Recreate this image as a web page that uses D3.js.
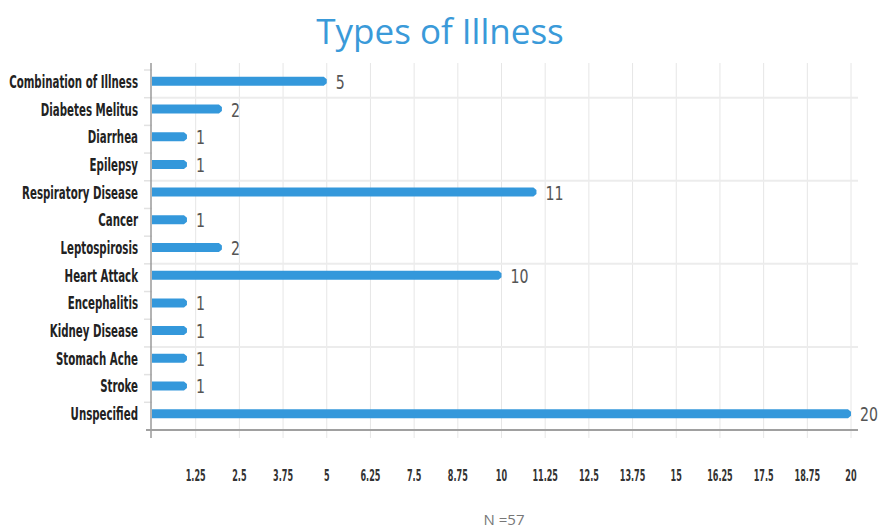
<!DOCTYPE html>
<html>
<head>
<meta charset="utf-8">
<script src="https://cdn.jsdelivr.net/npm/d3@7/dist/d3.min.js"></script>
<style>
  html, body { margin: 0; padding: 0; background: #fff; }
  svg { display: block; }
</style>
</head>
<body>
<script>
// Illness categories (top to bottom) and counts of cases
const categories = [
  "Combination of Illness", "Diabetes Melitus", "Diarrhea", "Epilepsy",
  "Respiratory Disease", "Cancer", "Leptospirosis", "Heart Attack",
  "Encephalitis", "Kidney Disease", "Stomach Ache", "Stroke", "Unspecified"
];
const counts = [5, 2, 1, 1, 11, 1, 2, 10, 1, 1, 1, 1, 20];
const xTicks = [1.25, 2.5, 3.75, 5, 6.25, 7.5, 8.75, 10, 11.25, 12.5, 13.75, 15, 16.25, 17.5, 18.75, 20];
const xTickLabels = ["1.25", "2.5", "3.75", "5", "6.25", "7.5", "8.75", "10", "11.25", "12.5", "13.75", "15", "16.25", "17.5", "18.75", "20"];
const title = "Types of Illness";
const footnote = "N =57";

const W = 878, H = 529;
const svg = d3.select("body").append("svg").attr("width", W).attr("height", H);

const condensed = "'Liberation Sans Narrow', 'DejaVu Sans Condensed', sans-serif";
const barColor = "#3498db";

const x = d3.scaleLinear().domain([0, 20]).range([152, 851]);
const y = d3.scaleBand().domain(categories).range([70, 430]).padding(0);
const rowY = d => y(d) + y.bandwidth() / 2 - 2.5;
const plotTop = 63, plotRight = 858, axisY = 430;

// Width of a string in a given font, used to squeeze text horizontally
function textWidth(str, family, size, weight) {
  const t = svg.append("text")
    .attr("font-family", family).attr("font-size", size)
    .attr("font-weight", weight).text(str);
  const w = t.node().getComputedTextLength();
  t.remove();
  return w;
}
const labelSize = 17.5, tickSize = 16.5, valueSize = 19.5;
const labelScale = 129 / textWidth("Combination of Illness", condensed, labelSize, "bold");
const tickScale = 20 / textWidth("1.25", condensed, tickSize, "bold");
const valueScale = 18 / textWidth("10", condensed, valueSize, "normal");

// Title
svg.append("text")
  .attr("x", 440).attr("y", 44)
  .attr("text-anchor", "middle")
  .attr("font-family", "'Open Sans', sans-serif")
  .attr("font-size", 35)
  .attr("fill", "#3a9ad9")
  .text(title);

// Vertical gridlines
svg.append("g").selectAll("line").data(xTicks).join("line")
  .attr("x1", d => x(d)).attr("x2", d => x(d))
  .attr("y1", plotTop).attr("y2", axisY + 8)
  .attr("stroke", "#e6e6e6").attr("stroke-width", 1);

// Horizontal gridlines every third row boundary
const hGrid = [1, 4, 7, 10].map(i => y(categories[i]));
svg.append("g").selectAll("line").data(hGrid).join("line")
  .attr("x1", x(0)).attr("x2", plotRight)
  .attr("y1", d => d).attr("y2", d => d)
  .attr("stroke", "#ececec").attr("stroke-width", 2);

// Small ticks on the left side of the category axis
const rowBounds = categories.map(c => y(c));
svg.append("g").selectAll("line").data(rowBounds).join("line")
  .attr("x1", x(0) - 8).attr("x2", x(0))
  .attr("y1", d => d).attr("y2", d => d)
  .attr("stroke", "#e2e2e2").attr("stroke-width", 1.5);

// Bars with a slightly tapered tip
const bh = 9;
svg.append("g").selectAll("path").data(categories).join("path")
  .attr("d", (c, i) => {
    const x0 = x(0), x1 = x(counts[i]), cy = rowY(c);
    return `M${x0},${cy - bh / 2} L${x1 - 3},${cy - bh / 2} L${x1},${cy - 2} L${x1},${cy + 2} L${x1 - 3},${cy + bh / 2} L${x0},${cy + bh / 2} Z`;
  })
  .attr("fill", barColor);

// Value labels
svg.append("g").selectAll("text").data(categories).join("text")
  .attr("transform", (c, i) => `translate(${x(counts[i]) + 9},${rowY(c) + 7.5}) scale(${valueScale},1)`)
  .attr("font-family", condensed)
  .attr("font-size", valueSize)
  .attr("fill", "#555")
  .text((c, i) => counts[i]);

// Category axis line
svg.append("line")
  .attr("x1", x(0) - 1).attr("x2", x(0) - 1)
  .attr("y1", plotTop).attr("y2", axisY + 8)
  .attr("stroke", "#9a9a9a").attr("stroke-width", 1.5);

// Value axis line
svg.append("line")
  .attr("x1", x(0) - 6).attr("x2", plotRight)
  .attr("y1", axisY).attr("y2", axisY)
  .attr("stroke", "#a0a0a0").attr("stroke-width", 2);

// Category labels
svg.append("g").selectAll("text").data(categories).join("text")
  .attr("text-anchor", "end")
  .attr("transform", c => `translate(138,${rowY(c) + 6.5}) scale(${labelScale},1)`)
  .attr("font-family", condensed)
  .attr("font-weight", "bold")
  .attr("font-size", labelSize)
  .attr("fill", "#222")
  .text(c => c);

// Value axis tick labels
svg.append("g").selectAll("text").data(xTicks).join("text")
  .attr("text-anchor", "middle")
  .attr("transform", d => `translate(${x(d)},481) scale(${tickScale},1)`)
  .attr("font-family", condensed)
  .attr("font-weight", "bold")
  .attr("font-size", tickSize)
  .attr("fill", "#333")
  .text((d, i) => xTickLabels[i]);

// Footnote
svg.append("text")
  .attr("x", 504).attr("y", 525)
  .attr("text-anchor", "middle")
  .attr("font-family", "'Open Sans', sans-serif")
  .attr("font-size", 15)
  .attr("fill", "#777")
  .text(footnote);
</script>
</body>
</html>
